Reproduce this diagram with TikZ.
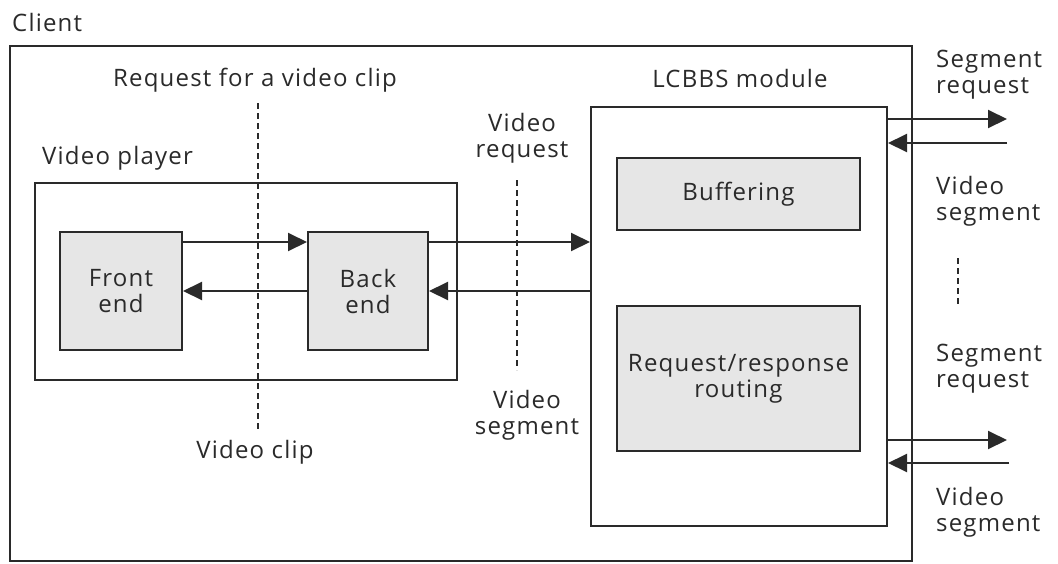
\documentclass[tikz,border=0pt]{standalone}
\usepackage{fontspec}
\setmainfont[LetterSpace=5]{Open Sans}
\usetikzlibrary{arrows.meta,calc}
\definecolor{ink}{HTML}{2A2A2A}
\definecolor{boxfill}{HTML}{E6E6E6}
\begin{document}
\begin{tikzpicture}[x=1pt,y=-1pt,
  every node/.style={font=\fontsize{24}{26}\selectfont, text=ink, inner sep=0pt},
  frame/.style={draw=ink, line width=2pt, rectangle},
  block/.style={frame, fill=boxfill, align=center},
  label2/.style={align=center},
  label2l/.style={align=left, anchor=west},
  arr/.style={draw=ink, line width=2pt, -{Triangle[length=19pt,width=18pt]}},
  guide/.style={draw=ink, line width=1.5pt, dash pattern=on 6pt off 4pt}]
\useasboundingbox (0,0) rectangle (1058,563);
\fill[white] (0,0) rectangle (1058,563);

% outer client boundary
\node[frame, minimum width=902pt, minimum height=515pt] (client) at (461,303.5) {};
\node[anchor=west] (clientlbl) at (12,22) {Client};

% video player
\node[frame, minimum width=422pt, minimum height=197pt] (vp) at (245.5,281.5) {};
\node[anchor=west] (vplbl) at (42,158) {Video player};
\node[block, minimum width=122pt, minimum height=118pt] (fe) at (121,291) {Front\\end};
\node[block, minimum width=120pt, minimum height=118pt] (be) at (368,291) {Back\\end};

% LCBBS module
\node[frame, minimum width=296pt, minimum height=419pt] (lc) at (739,316.5) {};
\node (lclbl) at (740,78) {LCBBS module};
\node[block, minimum width=243pt, minimum height=72pt] (buf) at (738.5,194) {Buffering};
\node[block, minimum width=243pt, minimum height=145pt] (rr) at (738.5,378.5) {Request/response\\routing};

% dashed interface guides
\node (reqclip) at (255,80) {Request for a video clip};
\node (clip) at (255,452) {Video clip};
\coordinate (g1a) at (258,103);
\coordinate (g1b) at (258,432);
\draw[guide] (g1a) -- (g1b);

\node[label2] (vreq) at (522,138) {Video\\request};
\node[label2] (vseg) at (527,415) {Video\\segment};
\coordinate (g2a) at (517,180);
\coordinate (g2b) at (517,370);
\draw[guide] (g2a) -- (g2b);

\coordinate (g3a) at (958,258);
\coordinate (g3b) at (958,305);
\draw[guide] (g3a) -- (g3b);

% player internal flow
\draw[arr] ([yshift=-11pt]fe.north east) coordinate (p1) -- (p1 -| be.west);
\draw[arr] (be.west) -- (fe.east);

% player <-> LCBBS
\draw[arr] ([yshift=-11pt]be.north east) coordinate (p2) -- (p2 -| lc.west);
\draw[arr] (lc.west |- be.east) -- (be.east);

% external segment traffic
\coordinate (o1) at (1007,119);
\coordinate (i1) at (1007,143);
\coordinate (o2) at (1007,440);
\coordinate (i2) at (1009,463);
\draw[arr] (lc.east |- o1) -- (o1);
\draw[arr] (i1) -- (i1 -| lc.east);
\draw[arr] (lc.east |- o2) -- (o2);
\draw[arr] (i2) -- (i2 -| lc.east);

\node[label2l] (sr1) at (936,75) {Segment\\request};
\node[label2l] (vs1) at (936,201) {Video\\segment};
\node[label2l] (sr2) at (936,369) {Segment\\request};
\node[label2l] (vs2) at (936,512) {Video\\segment};
\end{tikzpicture}
\end{document}
